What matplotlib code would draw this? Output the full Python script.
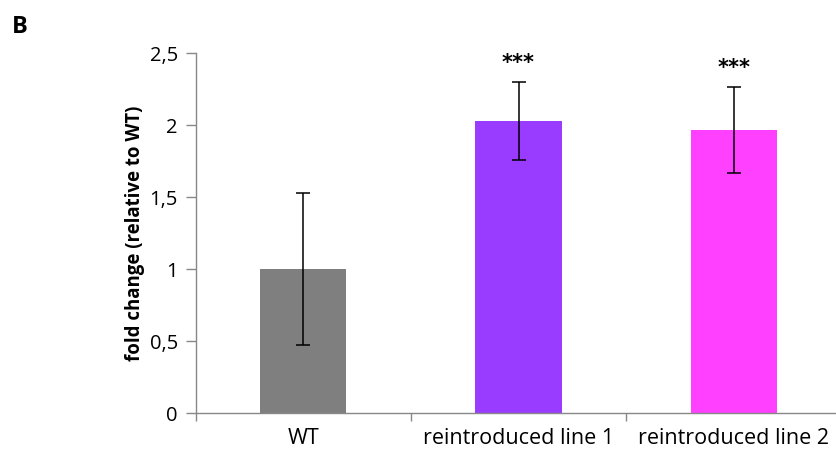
import matplotlib
matplotlib.use("Agg")
import matplotlib.pyplot as plt
from matplotlib.ticker import FixedLocator, FuncFormatter

categories = ["WT", "reintroduced line 1", "reintroduced line 2"]
values = [1.0, 2.03, 1.965]
errors = [0.53, 0.27, 0.30]
stars = ["", "***", "***"]
colors = ["#7f7f7f", "#9a3cff", "#ff40ff"]
yticks = [0, 0.5, 1, 1.5, 2, 2.5]

plt.rcParams['font.family'] = ['Open Sans', 'DejaVu Sans']

fig = plt.figure(figsize=(8.37, 4.5), dpi=100)
ax = fig.add_axes([0.234, 0.0822, 0.771, 0.8])

x = list(range(len(categories)))
ax.bar(x, values, width=0.4, color=colors, zorder=2)
ax.errorbar(x, values, yerr=errors, fmt='none', ecolor='black',
            elinewidth=1.1, capsize=5, capthick=1.1, zorder=3)
for xi, v, e, s in zip(x, values, errors, stars):
    if s:
        ax.text(xi, v + e + 0.06, s, ha='center', va='bottom',
                fontsize=15, fontweight='bold', family='DejaVu Sans')

ax.set_xlim(-0.5, 2.5)
ax.set_ylim(0, 2.5)
ax.set_yticks(yticks)
ax.yaxis.set_major_formatter(FuncFormatter(lambda v, p: ("%g" % v).replace('.', ',')))
ax.set_xticks(x)
ax.set_xticklabels(categories, fontsize=15.5)
ax.xaxis.set_minor_locator(FixedLocator([-0.5, 0.5, 1.5, 2.5]))
ax.tick_params(axis='x', which='major', length=0, pad=11)
ax.tick_params(axis='x', which='minor', length=6, color='#888888', width=1)
ax.tick_params(axis='y', length=7, color='#888888', width=1, labelsize=14.5, pad=6)

for sp in ['top', 'right']:
    ax.spines[sp].set_visible(False)
for sp in ['left', 'bottom']:
    ax.spines[sp].set_color('#888888')
    ax.spines[sp].set_linewidth(1)

ax.set_ylabel("fold change (relative to WT)", fontsize=13.4, fontweight='bold', labelpad=3)
fig.text(0.014, 0.94, "B", fontsize=17, fontweight='bold', ha='left', va='center')

fig.savefig("out.png", dpi=100)
